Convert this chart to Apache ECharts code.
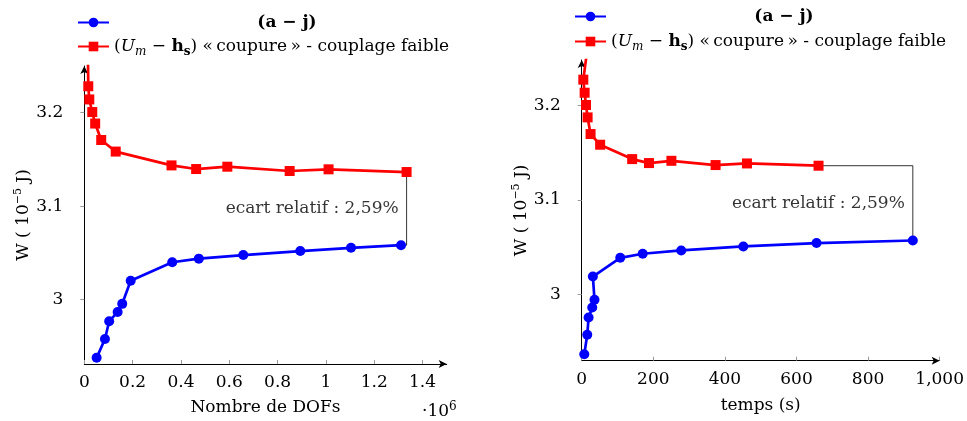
<!DOCTYPE html>
<html>
<head>
<meta charset="utf-8">
<script src="https://cdn.jsdelivr.net/npm/echarts@6/dist/echarts.min.js"></script>
<style>html,body{margin:0;padding:0;background:#fff}#c{width:967px;height:421px}</style>
</head>
<body>
<div id="c"></div>
<script>
// ---- data ----
const dofBlueX = [0.051, 0.0855, 0.103, 0.138, 0.157, 0.192, 0.364, 0.474, 0.658, 0.894, 1.104, 1.311];
const dofBlueW = [2.9376, 2.9577, 2.9767, 2.9867, 2.9954, 3.0201, 3.0399, 3.0438, 3.0476, 3.0519, 3.0554, 3.0582];
const dofRedX = [0.013, 0.0165, 0.0207, 0.033, 0.045, 0.070, 0.130, 0.361, 0.463, 0.592, 0.850, 1.011, 1.334];
const dofRedW = [3.30, 3.2283, 3.2142, 3.2007, 3.1884, 3.1708, 3.1584, 3.1436, 3.1397, 3.1422, 3.1376, 3.1394, 3.1365];

const timeBlueX = [7.2, 15.5, 19.3, 29.4, 35.8, 31.2, 107.7, 170.4, 278, 451.5, 656, 925];
const timeBlueW = [2.9369, 2.9574, 2.9757, 2.9862, 2.9944, 3.019, 3.0388, 3.0431, 3.0466, 3.0508, 3.0544, 3.0571];
const timeRedX = [30, 4.5, 8.2, 12, 16.5, 24.8, 51.5, 141, 188, 250.6, 374, 461.6, 661.6];
const timeRedW = [3.30, 3.2272, 3.2134, 3.2004, 3.1873, 3.1697, 3.1584, 3.1432, 3.139, 3.1414, 3.1369, 3.1386, 3.1362];

const dofTicks = [0, 0.2, 0.4, 0.6, 0.8, 1.0, 1.2, 1.4];
const timeTicks = [0, 200, 400, 600, 800, 1000];
const wTicks = [3, 3.1, 3.2];

const gapText = 'ecart relatif : 2,59%';
const xNameDof = 'Nombre de DOFs';
const xNameTime = 'temps (s)';
const scaleText = '·10{sup|6}';

// ---- helpers ----
const FONT = 'DejaVu Serif';
const FS = 17;
const zip = (xs, ys) => xs.map((x, i) => [x, ys[i]]);
const last = a => a[a.length - 1];

const yNameRich = {
  base: {fontFamily: FONT, fontSize: FS, color: '#000', lineHeight: 22},
  sup: {fontFamily: FONT, fontSize: 11, color: '#000', lineHeight: 11, verticalAlign: 'top'}
};
const yName = '{base|W ( 10}{sup|−5}{base| J)}';

const legendRich = {
  b: {fontFamily: FONT, fontSize: FS, fontWeight: 'bold', color: '#000', width: 346, align: 'center', lineHeight: 22},
  n: {fontFamily: FONT, fontSize: FS, color: '#000', lineHeight: 22},
  i: {fontFamily: FONT, fontSize: FS, fontStyle: 'italic', color: '#000', lineHeight: 22},
  isub: {fontFamily: FONT, fontSize: 12, fontStyle: 'italic', color: '#000', lineHeight: 12, verticalAlign: 'bottom'},
  bb: {fontFamily: FONT, fontSize: FS, fontWeight: 'bold', color: '#000', lineHeight: 22},
  bsub: {fontFamily: FONT, fontSize: 12, fontWeight: 'bold', color: '#000', lineHeight: 12, verticalAlign: 'bottom'}
};
const legendText = {
  'aj': '{b|(a − j)}',
  'um': '{n|(}{i|U}{isub|m}{n| − }{bb|h}{bsub|s}{n|) «\u2009coupure\u2009» - couplage faible}'
};

function makeLegend(id, names, left, top, gap) {
  return {
    id, orient: 'vertical', left, top, itemWidth: 31, itemHeight: 12, itemGap: gap,
    data: names, selectedMode: false,
    formatter: n => legendText[n.split('_')[0]],
    textStyle: {rich: legendRich}
  };
}

function xAxisCfg(gi, max, ticks, name, nameGap, fmt) {
  return {
    type: 'value', gridIndex: gi, min: 0, max,
    name, nameLocation: 'middle', nameGap,
    nameTextStyle: {fontFamily: FONT, fontSize: FS, color: '#000'},
    axisLine: {onZero: false, symbol: ['none', 'arrow'], symbolSize: [6, 8], lineStyle: {color: '#000', width: 1}},
    axisTick: {inside: true, length: 4, customValues: ticks, lineStyle: {color: '#999'}},
    axisLabel: {customValues: ticks, formatter: fmt, margin: 10, fontFamily: FONT, fontSize: FS, color: '#000'},
    splitLine: {show: false}
  };
}
function yAxisCfg(gi, min, max, nameGap) {
  return {
    type: 'value', gridIndex: gi, min, max,
    name: yName, nameLocation: 'middle', nameGap, nameRotate: 90,
    nameTextStyle: {rich: yNameRich},
    axisLine: {onZero: false, symbol: ['none', 'arrow'], symbolSize: [6, 8], lineStyle: {color: '#000', width: 1}},
    axisTick: {length: 4, customValues: wTicks, lineStyle: {color: '#999'}},
    axisLabel: {customValues: wTicks, formatter: v => String(+v.toFixed(1)), margin: 21, fontFamily: FONT, fontSize: FS, color: '#000'},
    splitLine: {show: false}
  };
}

function mainSeries(name, gi, xs, ys, color, symbol, size) {
  return {
    name, type: 'line', xAxisIndex: gi, yAxisIndex: gi, data: zip(xs, ys),
    symbol, symbolSize: size, showAllSymbol: true, clip: true,
    lineStyle: {color, width: 2.7}, itemStyle: {color}, z: symbol === 'rect' ? 4 : 3,
    animation: false
  };
}

// bracket between last red point and last blue point
const dofBracket = [[last(dofRedX), last(dofRedW)], [last(dofRedX), last(dofBlueW)], [last(dofBlueX), last(dofBlueW)]];
const timeBracket = [[last(timeRedX), last(timeRedW)], [last(timeBlueX), last(timeRedW)], [last(timeBlueX), last(timeBlueW)]];
const dofMid = [[last(dofRedX), (last(dofRedW) + last(dofBlueW)) / 2]];
const timeMid = [[last(timeBlueX), (last(timeRedW) + last(timeBlueW)) / 2]];

function bracketSeries(gi, data) {
  return {type: 'line', xAxisIndex: gi, yAxisIndex: gi, data, symbol: 'none',
    lineStyle: {color: '#000', width: 0.8}, z: 1, animation: false, silent: true};
}
function textSeries(gi, data) {
  return {type: 'scatter', xAxisIndex: gi, yAxisIndex: gi, data, symbolSize: 0, silent: true,
    label: {show: true, position: 'left', distance: 8, formatter: gapText, fontFamily: FONT, fontSize: FS, color: '#000'},
    animation: false};
}

const chart = echarts.init(document.getElementById('c'), null, {renderer: 'canvas'});
chart.setOption({
  animation: false,
  backgroundColor: '#fff',
  legend: [
    makeLegend('l0', ['aj_dof', 'um_dof'], 72, 9, 7),
    makeLegend('l1', ['aj_time', 'um_time'], 569, 3, 8)
  ],
  grid: [
    {left: 84.3, top: 66, width: 362.4, height: 300.7},
    {left: 581.7, top: 60, width: 361.6, height: 300.7}
  ],
  xAxis: [
    xAxisCfg(0, 1.5, dofTicks, xNameDof, 35, v => String(+v.toFixed(1))),
    xAxisCfg(1, 1000, timeTicks, xNameTime, 36, v => Math.round(v).toLocaleString('en-US'))
  ],
  yAxis: [
    yAxisCfg(0, 2.931, 3.25, 49),
    yAxisCfg(1, 2.930, 3.248, 47)
  ],
  graphic: [
    {type: 'text', left: 422, top: 401, style: {text: scaleText, rich: {
      sup: {fontFamily: FONT, fontSize: 12, color: '#000', lineHeight: 12, verticalAlign: 'top'}
    }, fontFamily: FONT, fontSize: FS, fill: '#000', lineHeight: 22}}
  ],
  series: [
    bracketSeries(0, dofBracket),
    mainSeries('aj_dof', 0, dofBlueX, dofBlueW, '#0000ff', 'circle', 10),
    mainSeries('um_dof', 0, dofRedX, dofRedW, '#ff0000', 'rect', 10),
    textSeries(0, dofMid),
    bracketSeries(1, timeBracket),
    mainSeries('aj_time', 1, timeBlueX, timeBlueW, '#0000ff', 'circle', 10),
    mainSeries('um_time', 1, timeRedX, timeRedW, '#ff0000', 'rect', 10),
    textSeries(1, timeMid)
  ]
});
</script>
</body>
</html>
